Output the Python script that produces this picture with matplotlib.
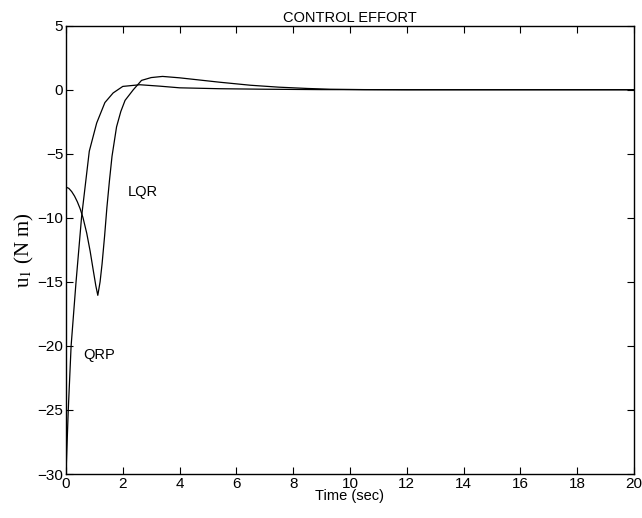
import numpy as np
import matplotlib.pyplot as plt

# Kurven
t_qrp = [0, 0.08, 0.18, 0.35, 0.55, 0.82, 1.08, 1.37, 1.66, 2.0, 2.6, 3.3, 4.0, 5.4, 7.0, 9.0, 12.0, 20.0]
u_qrp = [-30, -25, -20, -15.1, -9.9, -4.8, -2.6, -1.0, -0.25, 0.26, 0.39, 0.28, 0.15, 0.08, 0.04, 0.01, 0, 0]

t_lqr = [0, 0.1, 0.2, 0.3, 0.4, 0.5, 0.6, 0.73, 0.85, 0.96, 1.05, 1.12, 1.2, 1.27, 1.36, 1.44,
         1.53, 1.62, 1.78, 1.93, 2.08, 2.37, 2.66, 3.0, 3.4, 4.0, 5.4, 6.5, 7.5, 8.5, 9.3, 10.5, 12.0, 20.0]
u_lqr = [-7.6, -7.7, -7.95, -8.3, -8.75, -9.3, -10.0, -11.2, -12.6, -14.1, -15.3, -16.05, -15.0, -13.6,
         -11.4, -9.2, -7.1, -5.2, -2.9, -1.7, -0.83, 0.0, 0.73, 0.95, 1.04, 0.93, 0.59, 0.35, 0.2,
         0.1, 0.04, 0.01, 0, 0]

xticks = np.arange(0, 21, 2)
yticks = np.arange(-30, 6, 5)

plt.rcParams['font.family'] = ['Liberation Sans', 'DejaVu Sans']
plt.rcParams['mathtext.fontset'] = 'stix'

fig = plt.figure(figsize=(6.42, 5.18), dpi=100)
ax = fig.add_axes([0.1028, 0.0849, 0.8847, 0.8655])

ax.plot(t_qrp, u_qrp, color='k', linewidth=0.9)
ax.plot(t_lqr, u_lqr, color='k', linewidth=0.9)

ax.text(2.18, -8.0, 'LQR', fontsize=10.5, va='center', ha='left')
ax.text(0.6, -20.7, 'QRP', fontsize=10.5, va='center', ha='left')

ax.set_xlim(0, 20)
ax.set_ylim(-30, 5)
ax.set_xticks(xticks)
ax.set_yticks(yticks)
ax.set_yticklabels([str(v).replace('-', '\u2212') for v in yticks])
ax.tick_params(direction='in', length=5, width=0.8, labelsize=11, pad=2,
               top=True, right=True)
for s in ax.spines.values():
    s.set_linewidth(1.0)

ax.set_title('CONTROL EFFORT', fontsize=10.5, pad=3)
ax.set_xlabel('Time (sec)', fontsize=10.5, labelpad=-1)
ax.set_ylabel(r'u$_1$ (N m)', fontsize=15, family='Liberation Serif', labelpad=1)

fig.savefig('out.png', dpi=100)
